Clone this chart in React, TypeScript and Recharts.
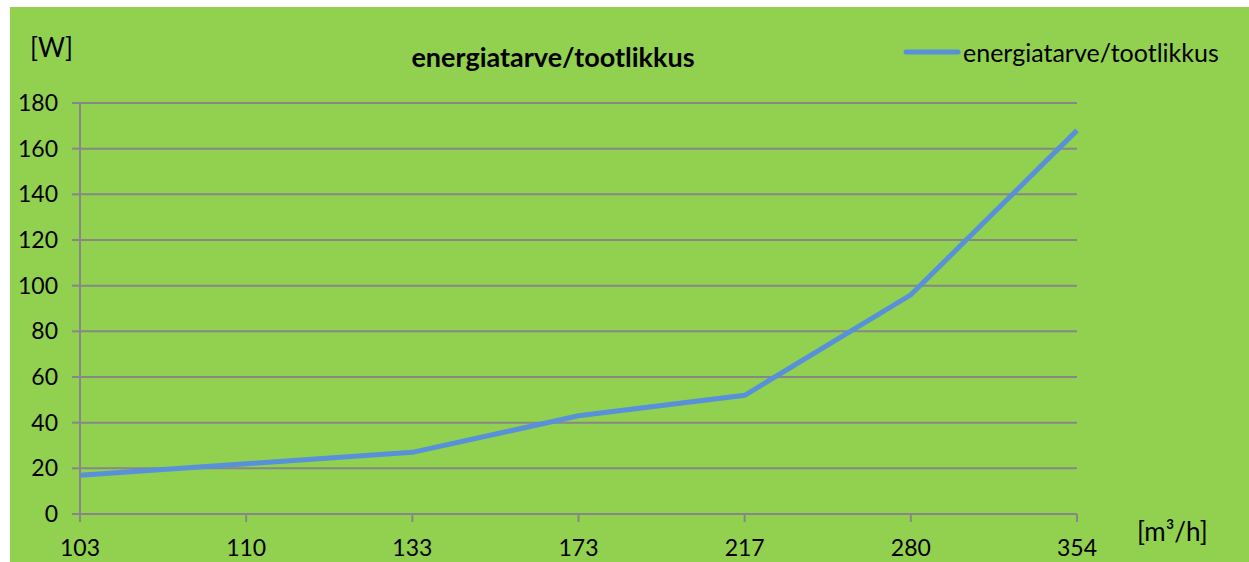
import { LineChart, Line, XAxis, YAxis, CartesianGrid } from "recharts";

const categories = ["103", "110", "133", "173", "217", "280", "354"];
const energy = [17, 22, 27, 43, 52, 96, 168];
const yTicks = [0, 20, 40, 60, 80, 100, 120, 140, 160, 180];

const seriesName = "energiatarve/tootlikkus";
const chartTitle = "energiatarve/tootlikkus";
const yUnit = "[W]";
const xUnit = "[m³/h]";

const data = categories.map((c, i) => ({ flow: c, value: energy[i] }));

const FONT = "Lato, 'Noto Sans', sans-serif";
const GRID = "#878787";
const LINE = "#5890D9";

export default function App() {
	return (
		<div
			style={{
				position: "absolute",
				left: 10,
				top: 7,
				width: 1239,
				height: 555,
				background: "#92D050",
				fontFamily: FONT,
				color: "#000",
			}}
		>
			<div style={{ position: "absolute", left: 20, top: 24, fontSize: 26 }}>{yUnit}</div>
			<div
				style={{
					position: "absolute",
					left: 343,
					width: 400,
					top: 33,
					textAlign: "center",
					fontSize: 27,
					fontWeight: 700,
				}}
			>
				{chartTitle}
			</div>
			<div style={{ position: "absolute", left: 1127, top: 508, fontSize: 26 }}>{xUnit}</div>
			{/* legend */}
			<div style={{ position: "absolute", left: 893, top: 30, display: "flex", alignItems: "center", fontSize: 25 }}>
				<svg width={58} height={10}>
					<line x1={3} y1={5} x2={55} y2={5} stroke={LINE} strokeWidth={5} strokeLinecap="round" />
				</svg>
				<span style={{ marginLeft: 2 }}>{seriesName}</span>
			</div>
			<LineChart width={1239} height={555} data={data} margin={{ top: 96, right: 172, left: 0, bottom: 8 }}>
				<CartesianGrid vertical={false} stroke={GRID} strokeWidth={2} />
				<XAxis
					dataKey="flow"
					stroke={GRID}
					strokeWidth={2}
					tickSize={8}
					tickMargin={18}
					height={40}
					tick={{ fill: "#000", fontSize: 23, fontFamily: FONT }}
					interval={0}
				/>
				<YAxis
					domain={[0, 180]}
					ticks={yTicks}
					stroke={GRID}
					strokeWidth={2}
					tickSize={8}
					tickMargin={14}
					width={70}
					tick={{ fill: "#000", fontSize: 23, fontFamily: FONT }}
					interval={0}
				/>
				<Line
					type="linear"
					dataKey="value"
					name={seriesName}
					stroke={LINE}
					strokeWidth={5}
					dot={false}
					activeDot={false}
					isAnimationActive={false}
				/>
			</LineChart>
		</div>
	);
}
